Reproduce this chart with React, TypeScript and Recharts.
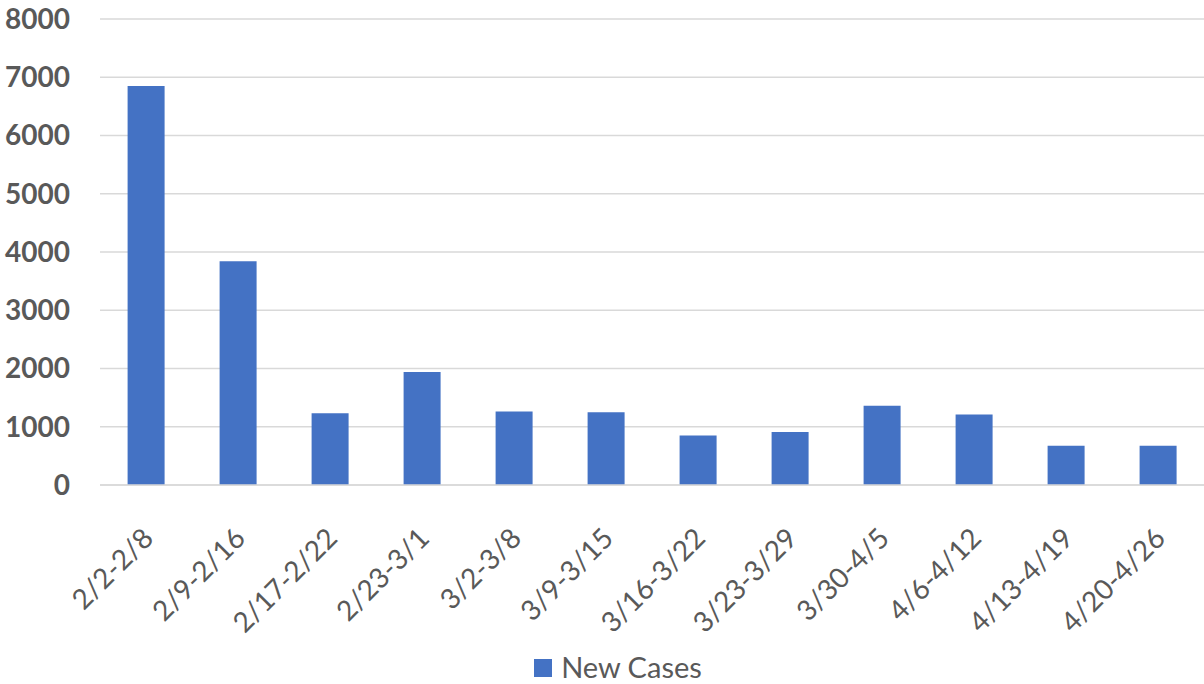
import { BarChart, Bar, XAxis, YAxis, CartesianGrid, Legend } from 'recharts';

const weeks = [
  '2/2-2/8', '2/9-2/16', '2/17-2/22', '2/23-3/1', '3/2-3/8', '3/9-3/15',
  '3/16-3/22', '3/23-3/29', '3/30-4/5', '4/6-4/12', '4/13-4/19', '4/20-4/26',
];
const newCases = [6850, 3840, 1230, 1940, 1260, 1250, 850, 910, 1360, 1210, 675, 675];
const yTicks = [0, 1000, 2000, 3000, 4000, 5000, 6000, 7000, 8000];

const data = weeks.map((week, i) => ({ week, cases: newCases[i] }));

const FONT = 'Lato, "Open Sans", sans-serif';
const GREY = '#595959';

// rotated category labels, like excel does at 45deg
const WeekTick = (props: any) => {
  const { x, y, payload } = props;
  const ax = x + 9;
  const ay = y + 47;
  return (
    <text
      x={ax}
      y={ay}
      transform={`rotate(-45, ${ax}, ${ay})`}
      textAnchor="end"
      fill={GREY}
      fontSize={28}
      fontFamily={FONT}
    >
      {payload.value}
    </text>
  );
};

const renderLegend = () => (
  <div style={{ display: 'flex', justifyContent: 'center', alignItems: 'center', fontFamily: FONT, paddingLeft: 32 }}>
    <span style={{ width: 18, height: 18, background: '#4472C4', display: 'inline-block', marginRight: 9, marginTop: 2 }} />
    <span style={{ fontSize: 29, color: GREY }}>New Cases</span>
  </div>
);

export default function App() {
  return (
    <div style={{ position: 'absolute', left: 0, top: 0, background: '#fff' }}>
      <BarChart width={1204} height={684} data={data} margin={{ top: 19, right: 0, left: 0, bottom: 0 }} barCategoryGap="30%">
        <CartesianGrid vertical={false} stroke="#d9d9d9" strokeWidth={1.5} />
        <XAxis
          dataKey="week"
          tickLine={false}
          axisLine={{ stroke: '#d9d9d9', strokeWidth: 1.5 }}
          tick={<WeekTick />}
          interval={0}
          height={164}
        />
        <YAxis
          domain={[0, 8000]}
          ticks={yTicks}
          width={100}
          tickLine={false}
          axisLine={false}
          tickSize={0}
          tickMargin={30}
          tick={{ fill: GREY, fontSize: 28, fontWeight: 700, fontFamily: FONT }}
        />
        <Legend verticalAlign="bottom" height={35} content={renderLegend} />
        <Bar dataKey="cases" fill="#4472C4" isAnimationActive={false} />
      </BarChart>
    </div>
  );
}
